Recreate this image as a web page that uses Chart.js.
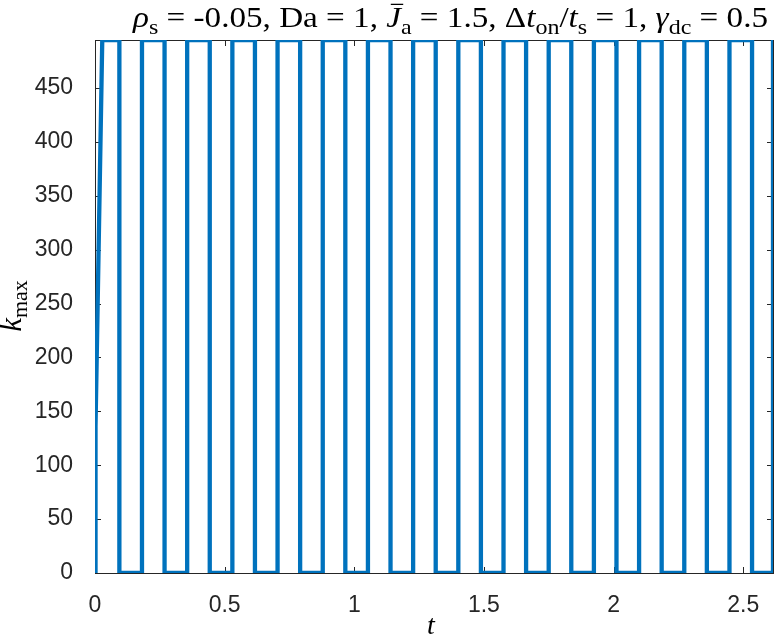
<!DOCTYPE html>
<html>
<head>
<meta charset="utf-8">
<script src="https://cdn.jsdelivr.net/npm/chart.js@4.4.1/dist/chart.umd.min.js"></script>
<style>
  html, body { margin: 0; padding: 0; background: #fff; }
  #wrap { width: 778px; height: 640px; position: relative; }
</style>
</head>
<body>
<div id="wrap"><canvas id="chart"></canvas></div>
<script>
// t (x) and k_max (y): square wave, vertical jumps
const tValues = [
  0, 0.002, 0.028,
  0.094, 0.094, 0.1812, 0.1812, 0.2683, 0.2683, 0.3555, 0.3555,
  0.4426, 0.4426, 0.5298, 0.5298, 0.6169, 0.6169, 0.7041, 0.7041,
  0.7912, 0.7912, 0.8784, 0.8784, 0.9655, 0.9655, 1.0527, 1.0527,
  1.1398, 1.1398, 1.2270, 1.2270, 1.3141, 1.3141, 1.4013, 1.4013,
  1.4884, 1.4884, 1.5756, 1.5756, 1.6627, 1.6627, 1.7499, 1.7499,
  1.8370, 1.8370, 1.9242, 1.9242, 2.0113, 2.0113, 2.0985, 2.0985,
  2.1856, 2.1856, 2.2728, 2.2728, 2.3599, 2.3599, 2.4471, 2.4471,
  2.5342, 2.5342, 2.615, 2.615
];
const kValues = [
  0, 136, 494.5,
  494.5, 0, 0, 494.5, 494.5, 0, 0, 494.5,
  494.5, 0, 0, 494.5, 494.5, 0, 0, 494.5,
  494.5, 0, 0, 494.5, 494.5, 0, 0, 494.5,
  494.5, 0, 0, 494.5, 494.5, 0, 0, 494.5,
  494.5, 0, 0, 494.5, 494.5, 0, 0, 494.5,
  494.5, 0, 0, 494.5, 494.5, 0, 0, 494.5,
  494.5, 0, 0, 494.5, 494.5, 0, 0, 494.5,
  494.5, 0, 0, 494.5
];
const xTicks = [0, 0.5, 1, 1.5, 2, 2.5];
const yTicks = [0, 50, 100, 150, 200, 250, 300, 350, 400, 450];
const xLimits = [0, 2.615];
const yLimits = [0, 494.5];

const axisColor = '#262626';
const lineColor = '#0072BD';
const sansFont = '"Liberation Sans", Arial, sans-serif';
const serifFont = '"Liberation Serif", "Times New Roman", serif';

// title pieces: [text, italic, subscript, extra]
const titleParts = [
  ['ρ', true, false], ['s', false, true],
  [' = -0.05, Da = 1, ', false, false],
  ['J', true, false, 'bar'], ['a', false, true],
  [' = 1.5, Δ', false, false],
  ['t', true, false], ['on', false, true],
  ['/', false, false],
  ['t', true, false], ['s', false, true],
  [' = 1, ', false, false],
  ['γ', true, false], ['dc', false, true],
  [' = 0.5', false, false]
];

function drawMathText(ctx, parts, x, y, size, subSize, subShift) {
  parts.forEach(p => {
    const sz = p[2] ? subSize : size;
    ctx.font = (p[1] ? 'italic ' : '') + sz + 'px ' + serifFont;
    const yy = p[2] ? y + subShift : y;
    ctx.fillText(p[0], x, yy);
    const w = ctx.measureText(p[0]).width;
    if (p[3] === 'bar') {
      ctx.save();
      ctx.lineWidth = 1.3;
      ctx.strokeStyle = ctx.fillStyle;
      ctx.beginPath();
      ctx.moveTo(x + 4, yy - sz * 0.78);
      ctx.lineTo(x + w + 2, yy - sz * 0.78);
      ctx.stroke();
      ctx.restore();
    }
    x += w;
  });
}

function mathWidth(ctx, parts, size, subSize) {
  let w = 0;
  parts.forEach(p => {
    ctx.font = (p[1] ? 'italic ' : '') + (p[2] ? subSize : size) + 'px ' + serifFont;
    w += ctx.measureText(p[0]).width;
  });
  return w;
}

const frame = {
  id: 'frame',
  beforeDatasetsDraw(chart) {
    const { ctx, chartArea: a, scales } = chart;
    ctx.save();
    ctx.strokeStyle = axisColor;
    ctx.lineWidth = 1;
    ctx.strokeRect(Math.round(a.left) + 0.5, Math.round(a.top) + 0.5,
      Math.round(a.right - a.left), Math.round(a.bottom - a.top));
    const tl = 6;
    ctx.beginPath();
    xTicks.forEach(v => {
      const px = Math.round(scales.x.getPixelForValue(v)) + 0.5;
      ctx.moveTo(px, a.bottom); ctx.lineTo(px, a.bottom - tl);
      ctx.moveTo(px, a.top); ctx.lineTo(px, a.top + tl);
    });
    yTicks.forEach(v => {
      const py = Math.round(scales.y.getPixelForValue(v)) + 0.5;
      ctx.moveTo(a.left, py); ctx.lineTo(a.left + tl, py);
      ctx.moveTo(a.right, py); ctx.lineTo(a.right - tl, py);
    });
    ctx.stroke();
    ctx.restore();
  },
  afterDraw(chart) {
    const { ctx, chartArea: a } = chart;
    ctx.save();
    ctx.fillStyle = '#000';
    ctx.textBaseline = 'alphabetic';
    // title, stretched to the width of the LaTeX original
    const tw = mathWidth(ctx, titleParts, 29, 21);
    const sx = 635 / tw;
    ctx.save();
    ctx.translate(133, 27);
    ctx.scale(sx, 1);
    drawMathText(ctx, titleParts, 0, 0, 29, 21, 7);
    ctx.restore();
    // x label
    ctx.font = 'italic 28px ' + serifFont;
    ctx.textAlign = 'center';
    ctx.fillText('t', (a.left + a.right) / 2 - 3, 634);
    // y label
    ctx.textAlign = 'left';
    ctx.translate(21, 306);
    ctx.rotate(-Math.PI / 2);
    const yl = [['k', true, false], ['max', false, true]];
    const yw = mathWidth(ctx, yl, 31, 22);
    drawMathText(ctx, yl, -yw / 2, 0, 31, 22, 6);
    ctx.restore();
  }
};

new Chart(document.getElementById('chart'), {
  type: 'scatter',
  data: {
    datasets: [{
      data: tValues.map((t, i) => ({ x: t, y: kValues[i] })),
      showLine: true,
      borderColor: lineColor,
      borderWidth: 4.3,
      borderJoinStyle: 'round',
      pointRadius: 0,
      tension: 0,
      fill: false
    }]
  },
  options: {
    responsive: true,
    maintainAspectRatio: false,
    animation: false,
    layout: { padding: { top: 40, right: 5, left: 0, bottom: 0 } },
    plugins: { legend: { display: false }, tooltip: { enabled: false } },
    scales: {
      x: {
        type: 'linear',
        min: xLimits[0], max: xLimits[1],
        grid: { display: false },
        border: { display: false },
        afterBuildTicks: s => { s.ticks = xTicks.map(v => ({ value: v })); },
        afterFit: s => { s.height = 67; },
        ticks: {
          color: axisColor, padding: 11, maxRotation: 0,
          font: { family: sansFont, size: 23 },
          callback: v => String(v)
        }
      },
      y: {
        type: 'linear',
        min: yLimits[0], max: yLimits[1],
        grid: { display: false },
        border: { display: false },
        afterBuildTicks: s => { s.ticks = yTicks.map(v => ({ value: v })); },
        afterFit: s => { s.width = 95; },
        ticks: {
          color: axisColor, padding: 14,
          font: { family: sansFont, size: 23 },
          callback: v => String(v)
        }
      }
    }
  },
  plugins: [frame]
});
</script>
</body>
</html>
